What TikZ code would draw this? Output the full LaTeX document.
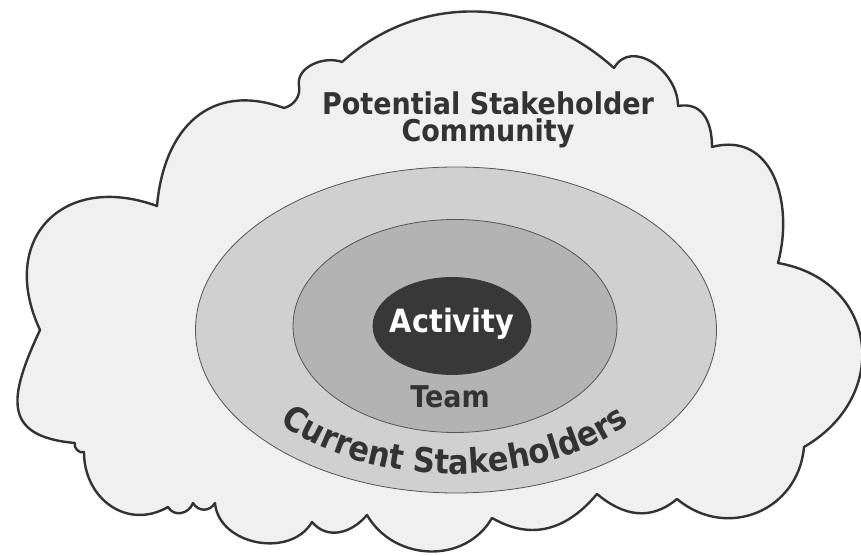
\documentclass[tikz,border=0pt]{standalone}
\usepackage{fontspec}
\newfontfamily\lblfam{DejaVu Sans}[FakeStretch=0.9]
\usetikzlibrary{shapes.geometric,decorations.text}
\definecolor{cloudfill}{HTML}{F0F0F0}
\definecolor{cloudedge}{HTML}{333333}
\definecolor{ringline}{HTML}{555555}
\definecolor{stakefill}{HTML}{D0D0D0}
\definecolor{teamfill}{HTML}{B3B3B3}
\definecolor{actfill}{HTML}{383838}
\definecolor{labeltext}{HTML}{333333}
\newcommand{\lblfont}[1]{\lblfam\bfseries\fontsize{#1}{#1}\selectfont}

\begin{document}
\begin{tikzpicture}[x=1pt, y=1pt,
  cloudline/.style={draw=cloudedge, fill=cloudfill, line width=2.4pt, line join=round},
  ring/.style={ellipse, draw=ringline, line width=0.8pt, inner sep=0pt},
  lbl/.style={font=\lblfont{30}, text=labeltext, inner sep=0pt, anchor=base}]

\useasboundingbox (0,0) rectangle (861,556);
\clip (0,0) rectangle (861,556);

% Potential stakeholder cloud
\path[cloudline] (40,226)
  to[out=115,in=160,looseness=1.5] (157,350)
  to[out=85,in=160,looseness=1.25] (284,448)
  to[out=15,in=-80] (299,470)
  to[out=100,in=160] (342,494)
  to[out=42,in=138] (614,488)
  to[out=60,in=90,looseness=1.2] (678,450)
  to[out=10,in=90,looseness=1.2] (712,409)
  to[out=15,in=75,looseness=1.2] (778,293)
  to[out=-10,in=30,looseness=1.4] (804,109)
  to[out=-95,in=-40,looseness=1.2] (677,57)
  to[out=-140,in=-40,looseness=1.1] (597,62)
  to[out=-130,in=-30,looseness=1.1] (492,38)
  to[out=-120,in=-60,looseness=1.1] (367,41)
  to[out=-130,in=-50,looseness=1.1] (312,34)
  to[out=-120,in=-85,looseness=1.1] (215,53)
  to[out=-120,in=-60,looseness=1.2] (193,53)
  to[out=-110,in=-60,looseness=1.2] (168,49)
  to[out=-150,in=-90,looseness=1.2] (84,104)
  to[bend left=70] (75,113)
  to[out=175,in=-115,looseness=1.6] (40,226) -- cycle;

\node[lbl] (pot1) at (488,441) {Potential Stakeholder};
\node[lbl] (pot2) at (488,414) {Community};

% Nested rings
\node[ring, fill=stakefill, minimum width=521pt, minimum height=326pt] (stake) at (456,226) {};
\node[ring, fill=teamfill, minimum width=324pt, minimum height=213pt] (team) at (455,230) {};
\node[ring, fill=actfill, draw=actfill, minimum width=158pt, minimum height=97pt] (act) at (452,230) {};
\node[lbl, font=\lblfont{32}, text=white] (acttext) at (452,223) {Activity};
\node[lbl] (teamtext) at (450,148) {Team};

% Curved label along the outer ring
\path[decorate, decoration={text along path, text align=center, text color=labeltext,
  text={|\lblfont{34}|Current Stakeholders}}]
  (455,226) ++(180:230 and 144) arc[start angle=180, end angle=360, x radius=230, y radius=144];

\end{tikzpicture}
\end{document}
